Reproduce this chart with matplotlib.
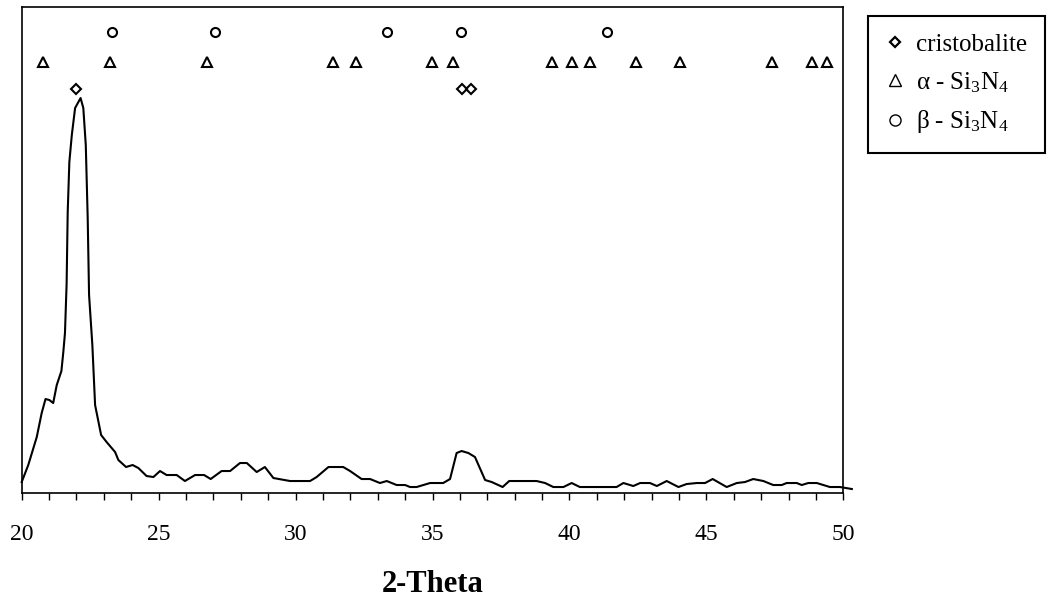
import matplotlib
matplotlib.use('Agg')
import matplotlib.pyplot as plt
from matplotlib.ticker import MultipleLocator

plt.rcParams['font.family'] = ['Liberation Serif', 'DejaVu Serif']
plt.rcParams['mathtext.fontset'] = 'custom'
plt.rcParams['mathtext.rm'] = 'Liberation Serif'
plt.rcParams['mathtext.it'] = 'Liberation Serif:italic'
plt.rcParams['mathtext.bf'] = 'Liberation Serif:bold'

# XRD pattern (2-theta, intensity in arbitrary units)
two_theta = [20.00, 20.24, 20.55, 20.73, 20.87, 21.01, 21.15, 21.28, 21.45, 21.52,
             21.58, 21.64, 21.68, 21.74, 21.83, 21.95, 22.15, 22.25, 22.34, 22.41,
             22.46, 22.58, 22.68, 22.90, 23.10, 23.41, 23.53, 23.81, 24.05, 24.26,
             24.56, 24.81, 25.05, 25.29, 25.66, 25.96, 26.33, 26.66, 26.90, 27.30,
             27.61, 27.97, 28.22, 28.58, 28.88, 29.19, 29.80, 30.53, 30.77, 31.20,
             31.74, 31.99, 32.41, 32.72, 33.08, 33.33, 33.69, 34.00, 34.18, 34.42,
             34.91, 35.39, 35.64, 35.88, 36.06, 36.31, 36.55, 36.92, 37.16, 37.56,
             37.80, 38.80, 39.11, 39.41, 39.78, 40.08, 40.38, 41.72, 41.97, 42.33,
             42.58, 42.94, 43.19, 43.55, 43.98, 44.28, 44.65, 44.95, 45.23, 45.74,
             46.11, 46.41, 46.71, 47.08, 47.44, 47.75, 47.93, 48.30, 48.48, 48.72,
             49.03, 49.51, 49.88, 50.31]
intensity = [11, 28, 56, 80, 94, 93, 90, 108, 122, 141,
             160, 209, 281, 331, 358, 385, 395, 385, 348, 275,
             198, 148, 88, 58, 51, 41, 33, 26, 28, 25,
             17, 16, 22, 18, 18, 12, 18, 18, 14, 22,
             22, 30, 30, 21, 26, 15, 12, 12, 16, 26,
             26, 22, 14, 14, 10, 12, 8, 8, 6, 6,
             10, 10, 14, 40, 42, 40, 36, 13, 11, 6,
             12, 12, 10, 6, 6, 10, 6, 6, 10, 7,
             10, 10, 7, 12, 6, 9, 10, 10, 14, 6,
             10, 11, 14, 12, 8, 8, 10, 10, 8, 10,
             10, 6, 6, 4]

# reference peak positions
cristobalite = [21.97, 36.09, 36.39]
alpha_si3n4 = [20.78, 23.22, 26.77, 31.37, 32.20, 34.97, 35.76, 39.35, 40.08,
               40.75, 42.43, 44.02, 47.39, 48.85, 49.42]
beta_si3n4 = [23.31, 27.05, 33.32, 36.03, 41.37]
level_cristobalite = 404
level_alpha = 431
level_beta = 461

fig = plt.figure(figsize=(10.53, 6), dpi=100)
ax = fig.add_axes([0.0206, 0.1783, 0.7803, 0.8095])

ax.plot(two_theta, intensity, color='k', lw=1.5, clip_on=False)
h1, = ax.plot(cristobalite, [level_cristobalite] * len(cristobalite), ls='none',
              marker='D', ms=5.5, mfc='none', mec='k', mew=1.5, label='cristobalite')
h2, = ax.plot(alpha_si3n4, [level_alpha] * len(alpha_si3n4), ls='none',
              marker='^', ms=7.5, mfc='none', mec='k', mew=1.5,
              label=r'α - Si$_\mathrm{3}$N$_\mathrm{4}$')
h3, = ax.plot(beta_si3n4, [level_beta] * len(beta_si3n4), ls='none',
              marker='o', ms=6.5, mfc='none', mec='k', mew=1.5,
              label=r'β - Si$_\mathrm{3}$N$_\mathrm{4}$')

ax.set_xlim(20, 50)
ax.set_ylim(0, 485.7)
ax.xaxis.set_major_locator(MultipleLocator(5))
ax.xaxis.set_minor_locator(MultipleLocator(1))
ax.tick_params(axis='x', which='both', direction='out', length=5, width=1,
               color='k', labelsize=17, pad=17)
ax.set_yticks([])
for s in ax.spines.values():
    s.set_linewidth(1.2)
    s.set_color('k')

ax.set_xlabel('2-Theta', fontsize=22, fontweight='bold', labelpad=18)

leg = fig.legend(handles=[h1, h2, h3], loc='upper left',
                 bbox_to_anchor=(0.824, 0.973), bbox_transform=fig.transFigure,
                 fontsize=18, frameon=True, fancybox=False, framealpha=1,
                 edgecolor='k', handlelength=0.8, handletextpad=0.45,
                 labelspacing=0.55, borderpad=0.7, borderaxespad=0)
leg.get_frame().set_linewidth(1.5)
for lh, ms, mew in zip(leg.legend_handles, [5.5, 8.5, 8.0], [1.6, 1.0, 1.0]):
    lh.set_markersize(ms)
    lh.set_markeredgewidth(mew)

fig.savefig('out.png', dpi=100)
plt.close()
